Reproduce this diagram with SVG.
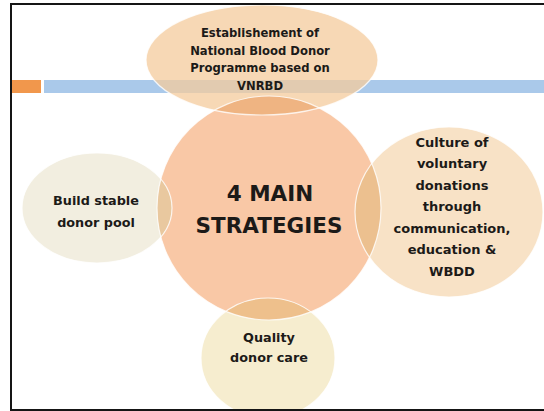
<svg xmlns="http://www.w3.org/2000/svg" width="544" height="411" viewBox="0 0 544 411">
  <defs>
    <style>
      .lbl { font-family: "DejaVu Sans", "Liberation Sans", sans-serif; font-weight: bold; fill: #1c1a18; text-anchor: middle; }
      .edge { fill: none; stroke: #ffffff; stroke-width: 1.2; stroke-opacity: 0.8; }
    </style>
    <clipPath id="frameClip"><rect x="12" y="5" width="540" height="404"/></clipPath>
    <clipPath id="clipTop"><ellipse cx="262" cy="60" rx="116" ry="55"/></clipPath>
    <clipPath id="clipLeft"><ellipse cx="97" cy="208" rx="75" ry="55"/></clipPath>
    <clipPath id="clipRight"><ellipse cx="449" cy="212" rx="94" ry="85"/></clipPath>
    <clipPath id="clipBottom"><ellipse cx="268" cy="358" rx="67" ry="60"/></clipPath>
  </defs>

  <rect width="544" height="411" fill="#ffffff"/>

  <!-- header bar -->
  <rect x="12" y="80" width="29" height="13" fill="#f1974c"/>
  <rect x="44" y="80" width="502" height="13" fill="#aac9ea"/>

  <g clip-path="url(#frameClip)">
    <!-- central node -->
    <g id="node-center">
      <circle cx="269" cy="208" r="112" fill="#f9c8a6"/>
    </g>

    <g id="node-top">
      <ellipse cx="262" cy="60" rx="116" ry="55" fill="#f4cb9c" fill-opacity="0.75"/>
    </g>
    <g id="node-left">
      <ellipse cx="97" cy="208" rx="75" ry="55" fill="#f2eee0"/>
    </g>
    <g id="node-right">
      <ellipse cx="449" cy="212" rx="94" ry="85" fill="#f8e2c6"/>
    </g>
    <g id="node-bottom">
      <ellipse cx="268" cy="358" rx="67" ry="60" fill="#f6edcf"/>
    </g>

    <!-- overlaps between the centre and each satellite -->
    <g id="connectors">
      <circle cx="269" cy="208" r="112" fill="#efb482" clip-path="url(#clipTop)"/>
      <circle cx="269" cy="208" r="112" fill="#e9c89f" clip-path="url(#clipLeft)"/>
      <circle cx="269" cy="208" r="112" fill="#ecc08f" clip-path="url(#clipRight)"/>
      <circle cx="269" cy="208" r="112" fill="#eec08c" clip-path="url(#clipBottom)"/>
      <circle class="edge" cx="269" cy="208" r="112"/>
      <ellipse class="edge" cx="262" cy="60" rx="116" ry="55"/>
      <ellipse class="edge" cx="97" cy="208" rx="75" ry="55"/>
      <ellipse class="edge" cx="449" cy="212" rx="94" ry="85"/>
      <ellipse class="edge" cx="268" cy="358" rx="67" ry="60"/>
    </g>
  </g>

  <!-- labels -->
  <text class="lbl" font-size="11.6"><tspan x="260" y="37">Establishement of</tspan><tspan x="260" y="54.5">National Blood Donor</tspan><tspan x="260" y="72">Programme based on</tspan><tspan x="260" y="89.5">VNRBD</tspan></text>
  <text class="lbl" font-size="21.5"><tspan x="270" y="201">4 MAIN</tspan><tspan x="269" y="233">STRATEGIES</tspan></text>
  <text class="lbl" font-size="12.8"><tspan x="96" y="204.5">Build stable</tspan><tspan x="96" y="226.5">donor pool</tspan></text>
  <text class="lbl" font-size="13"><tspan x="452" y="146.5">Culture of</tspan><tspan x="452" y="168">voluntary</tspan><tspan x="452" y="189.5">donations</tspan><tspan x="452" y="211">through</tspan><tspan x="452" y="232.5">communication,</tspan><tspan x="452" y="254">education &amp;</tspan><tspan x="452" y="275.5">WBDD</tspan></text>
  <text class="lbl" font-size="12.8"><tspan x="269" y="341.5">Quality</tspan><tspan x="269" y="361.5">donor care</tspan></text>

  <!-- slide frame -->
  <rect x="11" y="4" width="545" height="406" fill="none" stroke="#151515" stroke-width="2"/>
</svg>
